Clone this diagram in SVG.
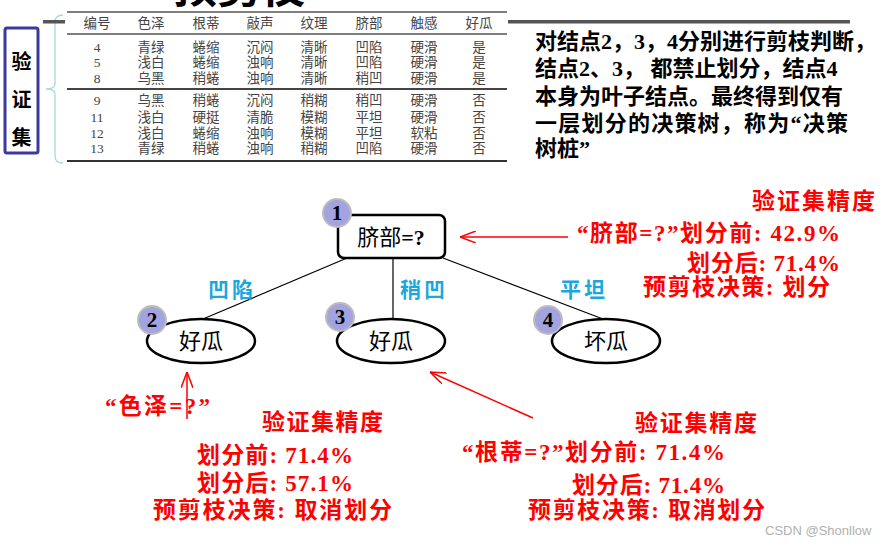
<svg xmlns="http://www.w3.org/2000/svg" width="887" height="545" viewBox="0 0 887 545">
<defs>
<style>
.tb{font-family:"Liberation Serif","Noto Sans CJK SC",serif;font-size:13.5px;fill:#444;text-anchor:middle}
.para{font-family:"Liberation Serif","Noto Sans CJK SC",serif;font-size:22px;font-weight:bold;fill:#000}
.red{font-family:"Liberation Serif","Noto Sans CJK SC",serif;font-size:23px;font-weight:bold;fill:#f00}
.blue{font-family:"Noto Sans CJK SC",sans-serif;font-size:21px;font-weight:bold;fill:#1aa7e0;text-anchor:middle;letter-spacing:3px}
.node{fill:#fff;stroke:#000;stroke-width:2.5}
.ntxt{font-family:"Noto Sans CJK SC",sans-serif;font-size:22px;fill:#000;text-anchor:middle}
.badge{fill:#a3a3df;stroke:#bdbdbd;stroke-width:2}
.bnum{font-family:"Liberation Serif",serif;font-size:21px;font-weight:bold;fill:#000;text-anchor:middle}
.edge{stroke:#000;stroke-width:1.2;fill:none}
.rarrow{stroke:#f00;stroke-width:1.5;fill:none}
</style>
<marker id="ah" viewBox="0 0 16 12" refX="16" refY="6" markerWidth="16" markerHeight="12" markerUnits="userSpaceOnUse" orient="auto">
<path d="M0,0 L16,6 L0,12" fill="none" stroke="#f00" stroke-width="1.5"/>
</marker>
</defs>
<rect width="887" height="545" fill="#fff"/>

<!-- cut-off title -->
<text x="173" y="3" font-family="Noto Sans CJK SC,sans-serif" font-size="44" font-weight="bold" fill="#000">预剪枝</text>

<!-- left label box -->
<g id="valset-label">
<rect x="5" y="28" width="33" height="125" rx="2" fill="#fff" stroke="#3a3a9e" stroke-width="3"/>
<text x="21.5" y="69" font-family="Noto Sans CJK SC,sans-serif" font-size="20" font-weight="bold" text-anchor="middle">验</text>
<text x="21.5" y="107" font-family="Noto Sans CJK SC,sans-serif" font-size="20" font-weight="bold" text-anchor="middle">证</text>
<text x="21.5" y="145" font-family="Noto Sans CJK SC,sans-serif" font-size="20" font-weight="bold" text-anchor="middle">集</text>
</g>

<!-- brace -->
<path d="M63,15 Q55,15 55,22 L55,84 Q55,89 46,89 Q55,89 55,94 L55,156 Q55,163 63,163" fill="none" stroke="#a9d9d9" stroke-width="1.3"/>
<rect x="43" y="20" width="22" height="3.5" fill="#555"/>
<rect x="508" y="20" width="342" height="3.5" fill="#555"/>

<!-- table -->
<g id="table">
<line x1="67" y1="12" x2="507" y2="12" stroke="#555" stroke-width="1.5"/>
<line x1="67" y1="34" x2="507" y2="34" stroke="#555" stroke-width="1.5"/>
<line x1="67" y1="89" x2="507" y2="89" stroke="#444" stroke-width="2"/>
<line x1="67" y1="161" x2="507" y2="161" stroke="#333" stroke-width="2"/>
<g class="tb">
<text x="97" y="28">编号</text><text x="151" y="28">色泽</text><text x="206" y="28">根蒂</text><text x="260" y="28">敲声</text><text x="314" y="28">纹理</text><text x="369" y="28">脐部</text><text x="424" y="28">触感</text><text x="479" y="28">好瓜</text>
<text x="97" y="52">4</text><text x="151" y="52">青绿</text><text x="206" y="52">蜷缩</text><text x="260" y="52">沉闷</text><text x="314" y="52">清晰</text><text x="369" y="52">凹陷</text><text x="424" y="52">硬滑</text><text x="479" y="52">是</text>
<text x="97" y="67">5</text><text x="151" y="67">浅白</text><text x="206" y="67">蜷缩</text><text x="260" y="67">浊响</text><text x="314" y="67">清晰</text><text x="369" y="67">凹陷</text><text x="424" y="67">硬滑</text><text x="479" y="67">是</text>
<text x="97" y="83">8</text><text x="151" y="83">乌黑</text><text x="206" y="83">稍蜷</text><text x="260" y="83">浊响</text><text x="314" y="83">清晰</text><text x="369" y="83">稍凹</text><text x="424" y="83">硬滑</text><text x="479" y="83">是</text>
<text x="97" y="105">9</text><text x="151" y="105">乌黑</text><text x="206" y="105">稍蜷</text><text x="260" y="105">沉闷</text><text x="314" y="105">稍糊</text><text x="369" y="105">稍凹</text><text x="424" y="105">硬滑</text><text x="479" y="105">否</text>
<text x="97" y="122">11</text><text x="151" y="122">浅白</text><text x="206" y="122">硬挺</text><text x="260" y="122">清脆</text><text x="314" y="122">模糊</text><text x="369" y="122">平坦</text><text x="424" y="122">硬滑</text><text x="479" y="122">否</text>
<text x="97" y="138">12</text><text x="151" y="138">浅白</text><text x="206" y="138">蜷缩</text><text x="260" y="138">浊响</text><text x="314" y="138">模糊</text><text x="369" y="138">平坦</text><text x="424" y="138">软粘</text><text x="479" y="138">否</text>
<text x="97" y="153">13</text><text x="151" y="153">青绿</text><text x="206" y="153">稍蜷</text><text x="260" y="153">浊响</text><text x="314" y="153">稍糊</text><text x="369" y="153">凹陷</text><text x="424" y="153">硬滑</text><text x="479" y="153">否</text>
</g>
</g>

<!-- paragraph -->
<g id="paragraph" class="para">
<text x="535" y="49">对结点2，3，4分别进行剪枝判断，</text>
<text x="535" y="76">结点2、3， 都禁止划分，结点4</text>
<text x="535" y="104">本身为叶子结点。最终得到仅有</text>
<text x="535" y="131" textLength="313" lengthAdjust="spacing">一层划分的决策树，称为“决策</text>
<text x="535" y="156">树桩”</text>
</g>

<!-- connectors -->
<g id="connectors">
<line class="edge" x1="347" y1="258" x2="203" y2="319"/>
<line class="edge" x1="393" y1="258" x2="393" y2="319"/>
<line class="edge" x1="443" y1="258" x2="603" y2="319"/>
<line class="rarrow" x1="568" y1="237" x2="460" y2="237" marker-end="url(#ah)"/>
<line class="rarrow" x1="187" y1="419" x2="187" y2="372" marker-end="url(#ah)"/>
<line class="rarrow" x1="533" y1="418" x2="430" y2="372" marker-end="url(#ah)"/>
</g>

<!-- edge labels -->
<text class="blue" x="232" y="297">凹陷</text>
<text class="blue" x="424" y="297">稍凹</text>
<text class="blue" x="584" y="297">平坦</text>

<!-- nodes -->
<g id="node1">
<rect class="node" x="338" y="215" width="107" height="43" rx="6"/>
<text class="ntxt" x="391" y="245">脐部<tspan font-family="Liberation Serif,serif" font-weight="bold">=?</tspan></text>
<circle class="badge" cx="337" cy="213" r="14"/>
<text class="bnum" x="337" y="220">1</text>
</g>
<g id="node2">
<ellipse class="node" cx="201" cy="341" rx="54" ry="22"/>
<text class="ntxt" x="201" y="349">好瓜</text>
<circle class="badge" cx="152" cy="320" r="14"/>
<text class="bnum" x="152" y="327">2</text>
</g>
<g id="node3">
<ellipse class="node" cx="391" cy="341" rx="54" ry="22"/>
<text class="ntxt" x="391" y="349">好瓜</text>
<circle class="badge" cx="340" cy="317" r="14"/>
<text class="bnum" x="340" y="324">3</text>
</g>
<g id="node4">
<ellipse class="node" cx="606" cy="341" rx="54" ry="22"/>
<text class="ntxt" x="606" y="349">坏瓜</text>
<circle class="badge" cx="548" cy="320" r="14"/>
<text class="bnum" x="548" y="327">4</text>
</g>

<!-- red annotations -->
<g id="ann-top" class="red">
<text x="752" y="209" textLength="123" lengthAdjust="spacing">验证集精度</text>
<text x="577" y="241" textLength="263" lengthAdjust="spacing">“脐部=?”划分前: 42.9%</text>
<text x="687" y="271" textLength="153" lengthAdjust="spacing">划分后: 71.4%</text>
<text x="643" y="295" textLength="187" lengthAdjust="spacing">预剪枝决策: 划分</text>
</g>
<g id="ann-left" class="red">
<text x="105" y="414" textLength="105" lengthAdjust="spacing">“色泽=?”</text>
<text x="262" y="430" textLength="121" lengthAdjust="spacing">验证集精度</text>
<text x="197" y="463" textLength="156" lengthAdjust="spacing">划分前: 71.4%</text>
<text x="197" y="491" textLength="156" lengthAdjust="spacing">划分后: 57.1%</text>
<text x="153" y="518" textLength="239" lengthAdjust="spacing">预剪枝决策: 取消划分</text>
</g>
<g id="ann-right" class="red">
<text x="635" y="431" textLength="122" lengthAdjust="spacing">验证集精度</text>
<text x="462" y="460" textLength="263" lengthAdjust="spacing">“根蒂=?”划分前: 71.4%</text>
<text x="572" y="493" textLength="153" lengthAdjust="spacing">划分后: 71.4%</text>
<text x="528" y="518" textLength="237" lengthAdjust="spacing">预剪枝决策: 取消划分</text>
</g>

<text x="765" y="535" font-family="Liberation Sans,sans-serif" font-size="13" fill="#b0b0b0">CSDN @Shonllow</text>
</svg>
